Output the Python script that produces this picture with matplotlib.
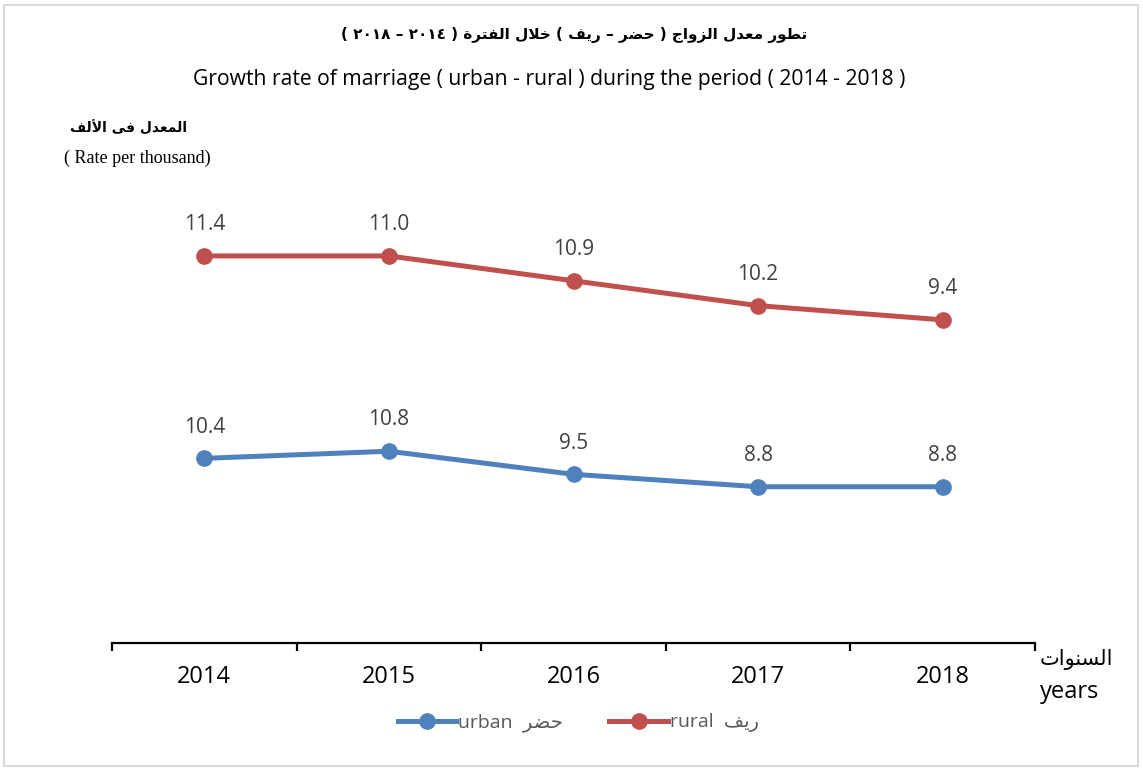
import re
import matplotlib
matplotlib.use("Agg")
import matplotlib.pyplot as plt
from matplotlib.lines import Line2D

years = ["2014", "2015", "2016", "2017", "2018"]
urban = [10.4, 10.8, 9.5, 8.8, 8.8]
rural = [11.4, 11.0, 10.9, 10.2, 9.4]

title_ar = "تطور معدل الزواج ( حضر – ريف ) خلال الفترة ( ٢٠١٤ – ٢٠١٨ )"
title_en = "Growth rate of marriage ( urban - rural ) during the period ( 2014 - 2018 )"
ylabel_ar = "المعدل فى الألف"
ylabel_en = "( Rate per thousand)"
xlabel_ar = "السنوات"
xlabel_en = "years"
urban_ar = "حضر"
rural_ar = "ريف"

# --- tiny arabic shaping (presentation forms) + right-to-left ordering ---
FORMS = {
    "ء": (0xFE80, 1), "آ": (0xFE81, 2), "أ": (0xFE83, 2), "ؤ": (0xFE85, 2),
    "إ": (0xFE87, 2), "ئ": (0xFE89, 4), "ا": (0xFE8D, 2), "ب": (0xFE8F, 4),
    "ة": (0xFE93, 2), "ت": (0xFE95, 4), "ث": (0xFE99, 4), "ج": (0xFE9D, 4),
    "ح": (0xFEA1, 4), "خ": (0xFEA5, 4), "د": (0xFEA9, 2), "ذ": (0xFEAB, 2),
    "ر": (0xFEAD, 2), "ز": (0xFEAF, 2), "س": (0xFEB1, 4), "ش": (0xFEB5, 4),
    "ص": (0xFEB9, 4), "ض": (0xFEBD, 4), "ط": (0xFEC1, 4), "ظ": (0xFEC5, 4),
    "ع": (0xFEC9, 4), "غ": (0xFECD, 4), "ف": (0xFED1, 4), "ق": (0xFED5, 4),
    "ك": (0xFED9, 4), "ل": (0xFEDD, 4), "م": (0xFEE1, 4), "ن": (0xFEE5, 4),
    "ه": (0xFEE9, 4), "و": (0xFEED, 2), "ى": (0xFEEF, 2), "ي": (0xFEF1, 4),
}
LAMALEF = {"آ": 0xFEF5, "أ": 0xFEF7, "إ": 0xFEF9, "ا": 0xFEFB}
MIRROR = {"(": ")", ")": "("}


def shape(s):
    toks = []
    i = 0
    while i < len(s):
        if s[i] == "ل" and i + 1 < len(s) and s[i + 1] in LAMALEF:
            toks.append(("LA", s[i + 1]))
            i += 2
        else:
            toks.append(s[i])
            i += 1

    def dual(t):
        return isinstance(t, str) and t in FORMS and FORMS[t][1] == 4

    def letter(t):
        return isinstance(t, tuple) or t in FORMS

    out = []
    for k, t in enumerate(toks):
        prev = toks[k - 1] if k > 0 else None
        nxt = toks[k + 1] if k + 1 < len(toks) else None
        jp = prev is not None and dual(prev)
        if isinstance(t, tuple):
            out.append(chr(LAMALEF[t[1]] + (1 if jp else 0)))
            continue
        if t not in FORMS:
            out.append(t)
            continue
        base, n = FORMS[t]
        jn = n == 4 and nxt is not None and letter(nxt)
        if n == 1:
            idx = 0
        elif jp and jn:
            idx = 3
        elif jn:
            idx = 2
        elif jp:
            idx = 1
        else:
            idx = 0
        out.append(chr(base + idx))
    return "".join(out)


def ar(s):
    parts = re.findall(r"[0-9٠-٩.]+|.", shape(s))
    return "".join(MIRROR.get(p, p) for p in reversed(parts))


sans = ["Open Sans", "DejaVu Sans"]
plt.rcParams["font.family"] = sans

W, H = 1143, 769
fig = plt.figure(figsize=(W / 100, H / 100), dpi=100)
ax = fig.add_axes([112 / W, 1 - 643 / H, (1035 - 112) / W, (643 - 105) / H])

x = list(range(len(years)))
rural_top = [u + r for u, r in zip(urban, rural)]  # stacked line chart

blue = "#4F81BD"
red = "#C0504D"
ax.plot(x, urban, color=blue, lw=3.6, marker="o", ms=11, solid_capstyle="round", zorder=3)
ax.plot(x, rural_top, color=red, lw=3.6, marker="o", ms=11, solid_capstyle="round", zorder=3)

for xi, yv, lab in zip(x, urban, urban):
    ax.annotate(f"{lab:.1f}", (xi, yv), xytext=(0, 22.5), textcoords="offset points",
                ha="center", va="center", fontsize=15, color="#404040")
for xi, yv, lab in zip(x, rural_top, rural):
    ax.annotate(f"{lab:.1f}", (xi, yv), xytext=(0, 22.5), textcoords="offset points",
                ha="center", va="center", fontsize=15, color="#404040")

ax.set_xlim(-0.5, len(years) - 0.5)
ax.set_ylim(0, 30.3)
for side in ["top", "right", "left"]:
    ax.spines[side].set_visible(False)
ax.spines["bottom"].set_linewidth(1.6)
ax.set_yticks([])
ax.set_xticks(x)
ax.set_xticklabels(years, fontsize=17, color="black")
ax.tick_params(axis="x", which="major", length=0, pad=16)
ax.set_xticks([i - 0.5 for i in range(len(years) + 1)], minor=True)
ax.tick_params(axis="x", which="minor", length=6, width=1.6, direction="out")

# titles
fig.text(574 / W, 1 - 35 / H, ar(title_ar), ha="center", va="center",
         fontsize=11, fontweight="bold", family=["DejaVu Sans"])
fig.text(549 / W, 1 - 79 / H, title_en, ha="center", va="center", fontsize=15.2, color="black")
fig.text(187 / W, 1 - 128 / H, ar(ylabel_ar), ha="right", va="center",
         fontsize=10, fontweight="bold", family=["DejaVu Sans"])
fig.text(137 / W, 1 - 158 / H, ylabel_en, ha="center", va="center",
         fontsize=13, family=["Liberation Serif"])
fig.text(1040 / W, 1 - 660 / H, ar(xlabel_ar), ha="left", va="center", fontsize=15)
fig.text(1040 / W, 1 - 692 / H, xlabel_en, ha="left", va="center", fontsize=17)

# legend
handles = [
    Line2D([], [], color=blue, lw=3.6, marker="o", ms=11),
    Line2D([], [], color=red, lw=3.6, marker="o", ms=11),
]
labels = ["urban  " + ar(urban_ar), "rural  " + ar(rural_ar)]
fig.legend(handles, labels, loc="center", bbox_to_anchor=(578 / W, 1 - 723 / H),
           ncol=2, frameon=False, fontsize=14, handlelength=3.0, handletextpad=0.1,
           columnspacing=2.4, labelcolor="#595959")

# outer border
fig.patches.append(plt.Rectangle((4 / W, 3 / H), 1 - 9 / W, 1 - 8 / H, transform=fig.transFigure,
                                 fill=False, edgecolor="#D9D9D9", lw=1.5))

fig.savefig("out.png", dpi=100, facecolor="white")
